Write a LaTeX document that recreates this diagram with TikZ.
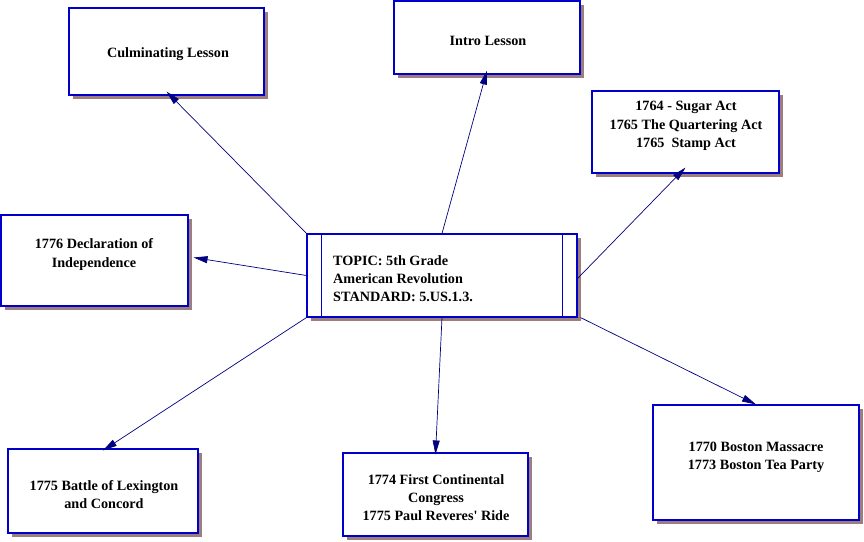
\documentclass[tikz,border=0pt]{standalone}
\usepackage{fontspec}
\setmainfont{Liberation Serif}
\usetikzlibrary{arrows.meta,shadows}
\definecolor{bblue}{HTML}{0000C8}
\definecolor{lnavy}{HTML}{000080}
\definecolor{shadowc}{HTML}{9C7E7E}
\tikzset{
  box/.style={draw=bblue, line width=1.1pt, fill=white, rectangle, inner sep=0pt,
    drop shadow={shadow xshift=4pt, shadow yshift=-4pt, fill=shadowc, opacity=1}},
  txt/.style={font=\fontsize{14.2}{18.3}\selectfont\bfseries, align=center, inner sep=0pt},
  conn/.style={draw=lnavy, line width=0.7pt, -{Triangle[length=14pt,width=7pt]}},
}
\begin{document}
\begin{tikzpicture}[x=1pt,y=-1pt]
\useasboundingbox (0,0) rectangle (864,541);
% boxes
\node[box, minimum width=195pt, minimum height=87pt] (culm) at (166.5,51.5) {};
\node[box, minimum width=186pt, minimum height=73pt] (intro) at (487,37.5) {};
\node[box, minimum width=187pt, minimum height=82pt] (sugar) at (685.5,132) {};
\node[box, minimum width=187pt, minimum height=91pt] (decl) at (94.5,260.5) {};
\node[box, minimum width=270pt, minimum height=83pt] (topic) at (442,275.5) {};
\node[box, minimum width=206pt, minimum height=115pt] (mass) at (756,462.5) {};
\node[box, minimum width=190pt, minimum height=84pt] (lex) at (103,491) {};
\node[box, minimum width=185pt, minimum height=83pt] (cong) at (435.5,494.5) {};
% inner lines of topic box
\draw[bblue, line width=1.1pt] ([xshift=15pt]topic.north west) -- ([xshift=15pt]topic.south west);
\draw[bblue, line width=1.1pt] ([xshift=-15pt]topic.north east) -- ([xshift=-15pt]topic.south east);
% texts
\node[txt] (culmt) at (168,54.5) {Culminating Lesson};
\node[txt] (introt) at (488,40.5) {Intro Lesson};
\node[txt] (sugart) at (686,126) {1764 - Sugar Act\\1765 The Quartering Act\\1765\ \ Stamp Act};
\node[txt] (declt) at (94,254.5) {1776 Declaration of\\Independence};
\node[txt, align=left, anchor=west] (topict) at (333,278.5) {TOPIC: 5th Grade\\American Revolution\\STANDARD: 5.US.1.3.};
\node[txt] (masst) at (756,457.5) {1770 Boston Massacre\\1773 Boston Tea Party};
\node[txt] (lext) at (104,494.5) {1775 Battle of Lexington\\and Concord};
\node[txt] (congt) at (436,497.5) {1774 First Continental\\Congress\\1775 Paul Reveres\textquotesingle\ Ride};
% connectors
\draw[conn] (topic.north west) -- ([yshift=4pt]culm.south);
\draw[conn] (topic.north) -- ([yshift=4pt]intro.south);
\draw[conn] ([yshift=-3pt]topic.east) -- ([yshift=6pt]sugar.south);
\draw[conn] (topic.west) -- ([xshift=5pt,yshift=3pt]decl.east);
\draw[conn] (topic.south west) -- ([yshift=-2pt]lex.north);
\draw[conn] (topic.south) -- ([yshift=-2pt]cong.north);
\draw[conn] ([xshift=3pt]topic.south east) -- (mass.north);
\end{tikzpicture}
\end{document}
